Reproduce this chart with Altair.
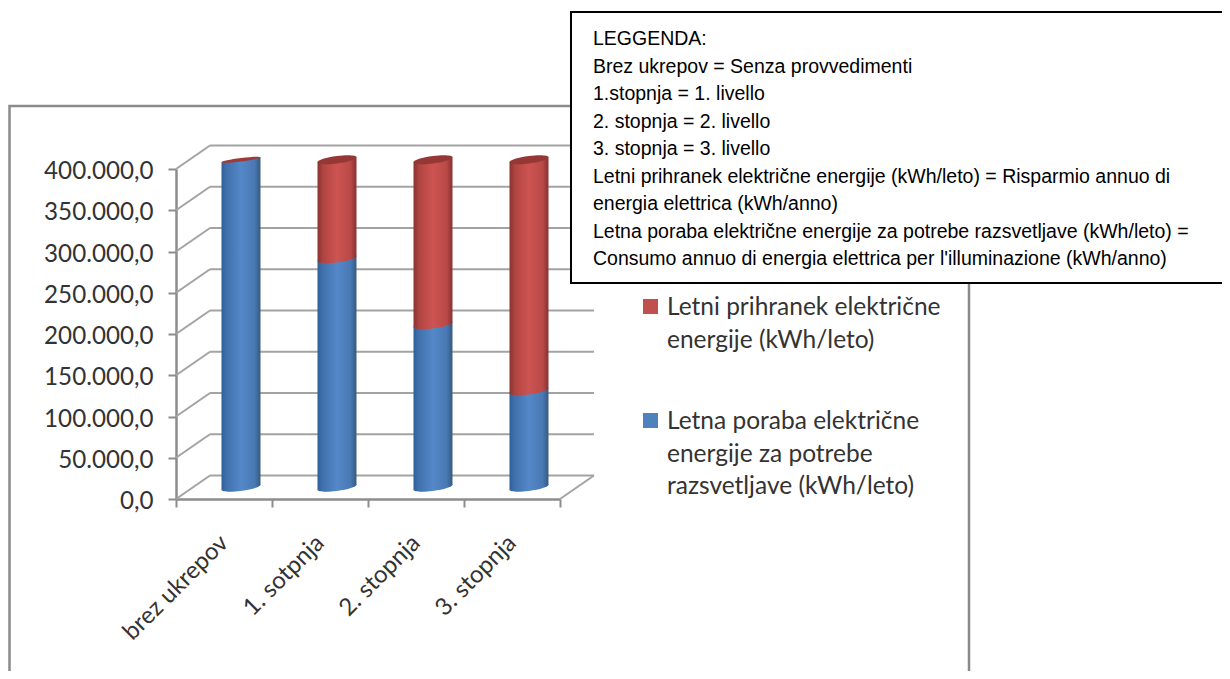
import altair as alt
import pandas as pd

CATEGORIES = ["brez ukrepov", "1. sotpnja", "2. stopnja", "3. stopnja"]
CONSUMPTION = [397000, 277000, 197000, 117000]
SAVINGS = [0, 120000, 200000, 280000]
Y_TICKS = [0, 50000, 100000, 150000, 200000, 250000, 300000, 350000, 400000]
BOX_LINES = [
    "LEGGENDA:",
    "Brez ukrepov = Senza provvedimenti",
    "1.stopnja = 1. livello",
    "2. stopnja = 2. livello",
    "3. stopnja = 3. livello",
    "Letni prihranek električne energije (kWh/leto) = Risparmio annuo di",
    "energia elettrica (kWh/anno)",
    "Letna poraba električne energije za potrebe razsvetljave (kWh/leto) =",
    "Consumo annuo di energia elettrica per l'illuminazione (kWh/anno)",
]
LEGEND_RED = ["Letni prihranek električne", "energije (kWh/leto)"]
LEGEND_BLUE = ["Letna poraba električne", "energije za potrebe", "razsvetljave (kWh/leto)"]

W, H = 1214, 663
GRID = "#a3a3a3"
AXIS = "#8c8c8c"
CHART_FONT = "Lato"
INK = "#333333"

DX, DY = 0.354, 28485      # 3-D depth in data units
HALF = 0.203               # half of a cylinder's width
TILT = 3030                # tilt of a cylinder's section

xs = alt.Scale(domain=[0, 4], range=[168, 552], nice=False, zero=False)
ys = alt.Scale(domain=[0, 400000], range=[491, 161], nice=False, zero=False)
X = alt.X("x:Q", scale=xs, axis=None)
fmt = "replace(replace(replace(format(datum.value,',.1f'),',','_'),'.',','),'_','.')"
Y = alt.Y("y:Q", scale=ys, axis=alt.Axis(
    values=Y_TICKS, title=None, grid=False, offset=-168, labelExpr=fmt,
    labelFont=CHART_FONT, labelFontSize=24.2, labelColor=INK, labelPadding=15, labelOffset=2.5,
    domainColor=AXIS, domainWidth=2.5, tickColor=AXIS, tickWidth=2, tickSize=8))


def grad(stops):
    return alt.LinearGradient(
        gradient="linear", x1=0, x2=1, y1=0, y2=0,
        stops=[alt.GradientStop(offset=o, color=c) for o, c in stops])


BLUE = grad([(0, "#2f5f97"), (0.12, "#3f70ac"), (0.5, "#5488c8"), (0.85, "#4a79b3"), (1, "#36597f")])
RED = grad([(0, "#8a3330"), (0.15, "#b04542"), (0.5, "#cd5452"), (0.85, "#b94947"), (1, "#853230")])


def ellipse(k, m):
    c = 0.5523
    def p(u, v):
        return f"{u:.4f},{(-k * u + m * v):.4f}"
    return ("M" + p(1, 0) + "C" + p(1, c) + " " + p(c, 1) + " " + p(0, 1)
            + "C" + p(-c, 1) + " " + p(-1, c) + " " + p(-1, 0)
            + "C" + p(-1, -c) + " " + p(-c, -1) + " " + p(0, -1)
            + "C" + p(c, -1) + " " + p(1, -c) + " " + p(1, 0) + "Z")


CAP = ellipse(0.128, 0.19)
FLAT_CAP = ellipse(0.128, 0.09)
SIZE = 39 ** 2

centers = [i + 0.5 + DX / 2 for i in range(4)]
base = DY / 2


def body(lows, highs):
    rows = []
    for i, c in enumerate(centers):
        rows.append({"k": i, "x": c - HALF, "y": lows[i] + base - TILT, "y2": highs[i] + base - TILT})
        rows.append({"k": i, "x": c + HALF, "y": lows[i] + base + TILT, "y2": highs[i] + base + TILT})
    return pd.DataFrame(rows)


def disc(vals, keep=None):
    rows = [{"x": c, "y": v + base} for i, (c, v) in enumerate(zip(centers, vals)) if keep is None or keep(i)]
    return pd.DataFrame(rows)


def area(df, fill):
    return alt.Chart(df).mark_area(fill=fill, strokeWidth=0).encode(
        x=X, y=alt.Y("y:Q", scale=ys, axis=None, stack=None), y2="y2:Q", detail="k:N")


def pts(df, fill, shape=CAP):
    return alt.Chart(df).mark_point(shape=shape, filled=True, fill=fill, size=SIZE, opacity=1, strokeWidth=0).encode(
        x=X, y=alt.Y("y:Q", scale=ys, axis=None))


tops = [a + b for a, b in zip(CONSUMPTION, SAVINGS)]

# frame of the chart
one = pd.DataFrame({"a": [0]})
frame = alt.Chart(one).mark_rect(
    fillOpacity=0, stroke="#8a8a8a", strokeWidth=2.5, clip=True
).encode(x=alt.value(1.5), x2=alt.value(961), y=alt.value(98), y2=alt.value(700))

# walls and floor
back = pd.DataFrame({"x": [DX] * len(Y_TICKS), "x2": [4 + DX] * len(Y_TICKS),
                     "y": [t + DY for t in Y_TICKS], "y2": [t + DY for t in Y_TICKS]})
side = pd.DataFrame({"x": [0] * len(Y_TICKS), "x2": [DX] * len(Y_TICKS),
                     "y": Y_TICKS, "y2": [t + DY for t in Y_TICKS]})
floor = pd.DataFrame({"x": [4], "x2": [4 + DX], "y": [0], "y2": [DY]})
walls = pd.concat([back, side, floor])
rules = alt.Chart(walls).mark_rule(color=GRID, strokeWidth=2).encode(x=X, x2="x2:Q", y=Y, y2="y2:Q")

# category axis
xaxis = alt.Chart(pd.DataFrame({"c": CATEGORIES, "y": [0] * 4})).mark_bar(opacity=0).encode(
    x=alt.X("c:N", sort=CATEGORIES,
            scale=alt.Scale(type="band", domain=CATEGORIES, range=[168, 552], paddingInner=0, paddingOuter=0),
            axis=alt.Axis(title=None, offset=-172, labelAngle=315, labelAlign="right", labelBaseline="middle",
                          labelFont=CHART_FONT, labelFontSize=24, labelColor=INK, labelPadding=32,
                          tickBand="extent", domainColor=AXIS, domainWidth=2.5, tickColor=AXIS, tickWidth=2,
                          tickSize=8, grid=False)),
    y=alt.Y("y:Q", scale=ys, axis=None))

layers = [
    frame, rules, xaxis,
    pts(disc([0] * 4), BLUE),
    area(body([0] * 4, CONSUMPTION), BLUE),
    pts(disc(CONSUMPTION, lambda i: SAVINGS[i] > 0), RED),
    area(body(CONSUMPTION, tops), RED),
    pts(disc(tops, lambda i: SAVINGS[i] > 0), "#943735"),
    pts(disc(tops, lambda i: SAVINGS[i] == 0), "#9e3b38", FLAT_CAP),
]

# legend of the chart
for color, lines, top in (("#c0504d", LEGEND_RED, 291), ("#4f81bd", LEGEND_BLUE, 405)):
    layers.append(alt.Chart(one).mark_rect(fill=color).encode(
        x=alt.value(635), x2=alt.value(650), y=alt.value(top), y2=alt.value(top + 15)))
    layers.append(alt.Chart(one).mark_text(
        text=lines, align="left", baseline="alphabetic", font=CHART_FONT, fontSize=24.5, lineHeight=32.5, color=INK
    ).encode(x=alt.value(659), y=alt.value(top + 16)))

# translation box
layers.append(alt.Chart(one).mark_rect(fill="white", stroke="black", strokeWidth=2, clip=True).encode(
    x=alt.value(563), x2=alt.value(1240), y=alt.value(4), y2=alt.value(275)))
layers.append(alt.Chart(one).mark_text(
    text=BOX_LINES, align="left", baseline="alphabetic", font="Liberation Sans", fontSize=19.5, lineHeight=27.5,
    color="black"
).encode(x=alt.value(585), y=alt.value(37)))

chart = alt.layer(*layers).resolve_scale(x="independent", y="independent").properties(
    width=W, height=H, padding=0, background="white",
    autosize=alt.AutoSizeParams(type="none", contains="padding")
).configure_view(stroke=None)

chart.save("out.html", embed_options={"renderer": "svg", "actions": False})
